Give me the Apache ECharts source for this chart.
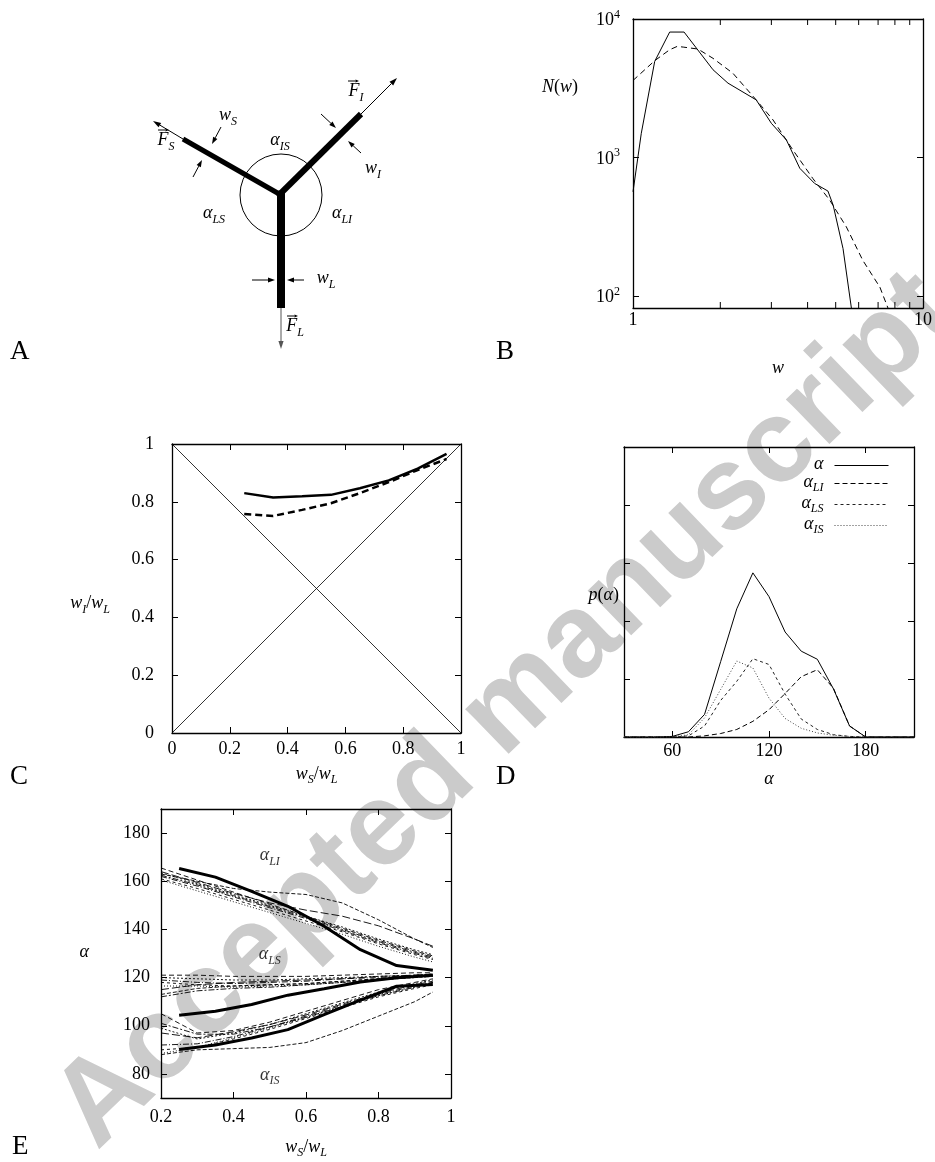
<!DOCTYPE html>
<html><head><meta charset="utf-8">
<script src="https://cdn.jsdelivr.net/npm/echarts@6/dist/echarts.min.js"></script>
<style>html,body{margin:0;padding:0;background:#fff}#c{width:935px;height:1162px}</style>
</head><body><div id="c"></div>
<script>
// ---------- Panel B : N(w) on log-log axes ----------
const bSolidW = [1.0, 1.068, 1.188, 1.338, 1.5, 1.888, 2.126, 2.66, 3.0, 3.38, 3.76, 4.23, 4.70, 4.9, 5.3, 5.74];
const bSolidN = [566, 1496, 4940, 8050, 8050, 4300, 3443, 2606, 1766, 1340, 836, 650, 573, 453, 220, 67];
const bDashW = [1.0, 1.188, 1.338, 1.42, 1.49, 1.675, 1.888, 2.21, 2.66, 3.04, 3.56, 4.17, 4.77, 5.44, 6.2, 7.1, 7.86];
const bDashN = [3600, 5000, 6000, 6340, 6270, 6070, 5200, 4060, 2606, 1868, 1133, 706, 492, 316, 181, 116, 67];
const bMinorTicks = [2, 3, 4, 5, 6, 7, 8, 9];

// ---------- Panel C : w_I/w_L vs w_S/w_L ----------
const cX = [0.25, 0.35, 0.45, 0.55, 0.65, 0.75, 0.85, 0.95];
const cSolid = [0.83, 0.815, 0.819, 0.824, 0.847, 0.874, 0.915, 0.966];
const cDashed = [0.758, 0.751, 0.772, 0.795, 0.83, 0.868, 0.91, 0.948];
const cDiagUp = [[0, 0], [1, 1]];
const cDiagDown = [[0, 1], [1, 0]];

// ---------- Panel D : p(alpha) ----------
const dAngle = [30, 40, 50, 60, 70, 80, 90, 100, 110, 120, 130, 140, 150, 160, 170, 180, 190, 200, 210];
const dAlpha = [0, 0, 0, 0.01, 0.09, 0.39, 1.30, 2.21, 2.83, 2.42, 1.81, 1.48, 1.34, 0.83, 0.19, 0, 0, 0, 0];
const dLI = [0, 0, 0, 0, 0, 0.02, 0.06, 0.13, 0.27, 0.47, 0.75, 1.04, 1.16, 0.84, 0.19, 0, 0, 0, 0];
const dLS = [0, 0, 0, 0, 0.02, 0.19, 0.63, 0.96, 1.35, 1.25, 0.74, 0.31, 0.13, 0.04, 0.01, 0, 0, 0, 0];
const dIS = [0, 0, 0, 0, 0.04, 0.33, 0.82, 1.31, 1.19, 0.67, 0.32, 0.15, 0.07, 0.03, 0.01, 0, 0, 0, 0];
const dTicks = [60, 120, 180];
const dLegendNames = ['α', 'αLI', 'αLS', 'αIS'];

// ---------- Panel E : alpha vs w_S/w_L ----------
const eXThin = [0.2, 0.3, 0.4, 0.5, 0.6, 0.7, 0.8, 0.9, 0.95];
const eXThick = [0.25, 0.35, 0.45, 0.55, 0.65, 0.75, 0.85, 0.95];
const eLIThick = [165.3, 161.7, 155.8, 149.6, 141.3, 131.6, 125.0, 123.0];
const eLSThick = [104.4, 106.0, 108.8, 112.7, 115.4, 118.2, 119.9, 121.0];
const eISThick = [90.1, 92.0, 94.9, 98.4, 104.6, 110.6, 116.4, 117.1];
const eLIThin = [
  [165.5, 160.5, 155.5, 150.5, 145.5, 140.5, 135.5, 131, 129],
  [163.5, 159, 154.5, 150, 145.5, 141, 136, 131.5, 129.5],
  [162, 158, 153.5, 149, 144.5, 139.5, 134.5, 130, 128],
  [161, 157, 152.5, 148, 143.5, 139, 134, 129.5, 127.5],
  [160.5, 156, 151.5, 147, 142.5, 138, 133, 128.5, 126.5],
  [163, 160, 157, 155.5, 154.5, 151, 144, 136, 132.5],
  [164, 159.5, 155, 151, 148, 145.5, 141.5, 136, 133],
  [162.5, 158.5, 154, 149.5, 145, 140, 135, 130.5, 128.5]
];
const eLSThin = [
  [121, 121, 120.5, 120.5, 120.5, 121, 121.5, 122, 122],
  [120, 119.5, 119, 119, 119.5, 120, 120.5, 121, 121.5],
  [119, 118, 117.5, 118, 118.5, 119.5, 120, 121, 121],
  [118, 117, 116.5, 117, 117.5, 118.5, 119.5, 120.5, 121],
  [116.5, 116.5, 116, 116.5, 117, 118, 119, 120, 120.5],
  [113, 115.5, 116.5, 117, 117.5, 118.5, 119.5, 120.5, 121],
  [115, 117, 118, 118.5, 119, 119.5, 120.5, 121, 121.5],
  [112, 114.5, 115.5, 116, 117, 118, 119, 120, 120.5]
];
const eISThin = [
  [105, 97, 98, 101.5, 106, 110.5, 115, 118, 119.5],
  [99, 94.5, 97, 100.5, 105, 109.5, 114, 117.5, 119],
  [92, 92.5, 95.5, 99.5, 104, 108.5, 113, 116.5, 118],
  [90, 91, 94.5, 98.5, 103, 107.5, 112, 115.5, 117],
  [88.5, 91, 95, 99, 103.5, 108, 112.5, 116, 117.5],
  [88, 90, 90.5, 91, 93, 98, 104, 110, 114],
  [97, 95, 97.5, 100.5, 104.5, 109, 113.5, 117, 118.5],
  [101, 96.5, 96.5, 99.5, 103.5, 108, 112.5, 116, 118]
];
const eTicks = [80, 100, 120, 140, 160, 180];
const eLabelSub = ['LI', 'LS', 'IS'];
const eLabelX = [0.5, 0.5, 0.5];
const eLabelY = [170, 129, 79];

// ---------- styles ----------
const FONT = 'Liberation Serif';
function mkRich(size, sub) {
  return {
    i: {fontFamily: FONT, fontStyle: 'italic', fontSize: size, verticalAlign: 'bottom', padding: [0, 0, 3, 0], color: '#000', fill: '#000'},
    n: {fontFamily: FONT, fontSize: size, verticalAlign: 'bottom', padding: [0, 0, 3, 0], color: '#000', fill: '#000'},
    s: {fontFamily: FONT, fontStyle: 'italic', fontSize: sub, verticalAlign: 'bottom', color: '#000', fill: '#000'},
    b: {fontFamily: FONT, fontSize: size, verticalAlign: 'bottom', color: '#000', fill: '#000'},
    p: {fontFamily: FONT, fontSize: sub, verticalAlign: 'bottom', padding: [0, 0, 9, 0], color: '#000', fill: '#000'}
  };
}
const RICH = mkRich(18, 12);
const zip = (xs, ys) => xs.map((x, i) => [x, ys[i]]);

function ax(o) {
  return {
    type: o.type || 'value', gridIndex: o.grid, position: o.pos,
    min: o.min, max: o.max, interval: o.interval, logBase: 10,
    name: o.name || '', nameLocation: 'middle', nameGap: o.nameGap || 0, nameRotate: 0,
    nameMoveOverlap: false,
    nameTextStyle: {rich: RICH, padding: o.namePad || 0, color: '#000'},
    axisLine: {show: true, onZero: false, lineStyle: {color: '#000', width: 1.3}},
    axisTick: {show: true, inside: true, length: 6, lineStyle: {color: '#000', width: 1}, customValues: o.ticks},
    minorTick: {show: false},
    splitLine: {show: false},
    axisLabel: {show: !!o.labels, margin: o.margin || 8, fontFamily: FONT, fontSize: 18, color: '#000',
      formatter: o.fmt, customValues: o.labelValues, rich: RICH, showMinLabel: true, showMaxLabel: true, hideOverlap: false}
  };
}
const powFmt = v => {
  const l = Math.log10(v), e = Math.round(l);
  if (Math.abs(l - e) > 1e-6) return '';
  return '{b|10}{p|' + e + '}';
};

// ---------- series ----------
const series = [];
series.push({type: 'line', xAxisIndex: 0, yAxisIndex: 0, data: zip(bSolidW, bSolidN), symbol: 'none', lineStyle: {color: '#000', width: 1}});
series.push({type: 'line', xAxisIndex: 0, yAxisIndex: 0, data: zip(bDashW, bDashN), symbol: 'none', lineStyle: {color: '#000', width: 1, type: [6, 4]}});
series.push({type: 'custom', xAxisIndex: 0, yAxisIndex: 0, data: bMinorTicks.map(v => [v, 1000]),
  renderItem: (params, api) => {
    const x = api.coord([api.value(0), api.value(1)])[0];
    const top = params.coordSys.y, bot = top + params.coordSys.height;
    return {type: 'group', children: [
      {type: 'line', shape: {x1: x, y1: bot, x2: x, y2: bot - 6}, style: {stroke: '#000', lineWidth: 1}},
      {type: 'line', shape: {x1: x, y1: top, x2: x, y2: top + 6}, style: {stroke: '#000', lineWidth: 1}}
    ]};
  }});

series.push({type: 'line', xAxisIndex: 1, yAxisIndex: 1, data: cDiagUp, symbol: 'none', lineStyle: {color: '#000', width: 0.8}});
series.push({type: 'line', xAxisIndex: 1, yAxisIndex: 1, data: cDiagDown, symbol: 'none', lineStyle: {color: '#000', width: 0.8}});
series.push({type: 'line', xAxisIndex: 1, yAxisIndex: 1, data: zip(cX, cSolid), symbol: 'none', lineStyle: {color: '#000', width: 2.5}});
series.push({type: 'line', xAxisIndex: 1, yAxisIndex: 1, data: zip(cX, cDashed), symbol: 'none', lineStyle: {color: '#000', width: 2.5, type: [7, 4]}});

const dStyles = {
  'α': {color: '#000', width: 1, type: 'solid'},
  'αLI': {color: '#000', width: 1, type: [5, 3]},
  'αLS': {color: '#222', width: 1, type: [3, 3]},
  'αIS': {color: '#444', width: 1, type: [1, 2]}
};
const dData = {'α': dAlpha, 'αLI': dLI, 'αLS': dLS, 'αIS': dIS};
dLegendNames.forEach(n => {
  series.push({type: 'line', name: n, xAxisIndex: 2, yAxisIndex: 2, data: zip(dAngle, dData[n]), symbol: 'none',
    lineStyle: dStyles[n], itemStyle: {color: dStyles[n].color}});
});

const eDashes = [[5, 3], [2, 2], [6, 2, 1, 2], [3, 3], [1, 2], [4, 2], [8, 3], [6, 2, 2, 2]];
[eLIThin, eLSThin, eISThin].forEach(group => group.forEach((ys, i) => {
  series.push({type: 'line', xAxisIndex: 3, yAxisIndex: 3, data: zip(eXThin, ys), symbol: 'none',
    lineStyle: {color: '#000', width: 0.9, type: eDashes[i % eDashes.length]}});
}));
[eLIThick, eLSThick, eISThick].forEach(ys => {
  series.push({type: 'line', xAxisIndex: 3, yAxisIndex: 3, data: zip(eXThick, ys), symbol: 'none',
    lineStyle: {color: '#000', width: 3}, z: 3});
});
series.push({type: 'scatter', xAxisIndex: 3, yAxisIndex: 3, symbolSize: 0,
  data: eLabelSub.map((s, i) => ({value: [eLabelX[i], eLabelY[i]], sub: s})),
  label: {show: true, position: 'inside', formatter: p => '{i|α}{s|' + p.data.sub + '}', rich: RICH}});

// ---------- diagram (panel A), letters, watermark ----------
function arrow(x1, y1, x2, y2, color, hl, hw) {
  const dx = x2 - x1, dy = y2 - y1, L = Math.hypot(dx, dy), ux = dx / L, uy = dy / L;
  const bx = x2 - ux * hl, by = y2 - uy * hl;
  return [
    {type: 'line', shape: {x1: x1, y1: y1, x2: bx, y2: by}, style: {stroke: color, lineWidth: 1}},
    {type: 'polygon', shape: {points: [[x2, y2], [bx - uy * hw, by + ux * hw], [bx + uy * hw, by - ux * hw]]}, style: {fill: color}}
  ];
}
function txt(x, y, text, extra) {
  return Object.assign({type: 'text', x: x, y: y, style: {text: text, rich: RICH, fill: '#000',
    align: 'center', verticalAlign: 'middle', textAlign: 'center', textVerticalAlign: 'middle'}}, extra || {});
}
function vecF(cx, cy, sub) {
  return [txt(cx, cy, '{i|F}{s|' + sub + '}')].concat(arrow(cx - 8, cy - 12, cx + 3, cy - 12, '#000', 3.5, 1.6));
}
const diagram = [].concat(
  [{type: 'circle', shape: {cx: 281, cy: 195, r: 41}, style: {stroke: '#000', lineWidth: 1, fill: null}}],
  [{type: 'line', shape: {x1: 281, y1: 192, x2: 281, y2: 308}, style: {stroke: '#000', lineWidth: 8}}],
  [{type: 'line', shape: {x1: 280, y1: 194, x2: 361, y2: 114}, style: {stroke: '#000', lineWidth: 6}}],
  [{type: 'line', shape: {x1: 281, y1: 195, x2: 183, y2: 139}, style: {stroke: '#000', lineWidth: 5}}],
  [{type: 'circle', shape: {cx: 280, cy: 194, r: 3.6}, style: {fill: '#000'}}],
  arrow(281, 308, 281, 349, '#555', 8, 2.6),
  arrow(361, 114, 397, 78, '#000', 8, 2.6),
  arrow(183, 139, 153, 121, '#000', 8, 2.6),
  arrow(252, 280, 275, 280, '#000', 7, 2.4),
  arrow(304, 280, 287, 280, '#000', 7, 2.4),
  arrow(321, 114, 336, 128, '#000', 7, 2.4),
  arrow(361, 153, 348, 141, '#000', 7, 2.4),
  arrow(221, 127, 212, 144, '#000', 7, 2.4),
  arrow(193, 177, 202, 160, '#000', 7, 2.4),
  [txt(280, 142, '{i|α}{s|IS}'), txt(214, 215, '{i|α}{s|LS}'), txt(342, 215, '{i|α}{s|LI}'),
   txt(228, 117, '{i|w}{s|S}'), txt(373, 170, '{i|w}{s|I}'), txt(326, 280, '{i|w}{s|L}')],
  vecF(356, 93, 'I'), vecF(295, 328, 'L'), vecF(166, 142, 'S')
);
const letterStyle = t => ({text: t, font: '27px "Liberation Serif"', fill: '#000', align: 'left', verticalAlign: 'middle', textAlign: 'left', textVerticalAlign: 'middle'});
const letters = [['A', 10, 352], ['B', 496, 352], ['C', 10, 777], ['D', 496, 777], ['E', 12, 1147]]
  .map(l => ({type: 'text', x: l[1], y: l[2], style: letterStyle(l[0])}));
const watermark = {type: 'text', x: 506, y: 711, rotation: 44 * Math.PI / 180, z: -10,
  style: {text: 'Accepted manuscript', font: 'bold 118px "Liberation Sans"', fill: '#cbcbcb',
    align: 'center', verticalAlign: 'middle', textAlign: 'center', textVerticalAlign: 'middle'}};

const option = {
  animation: false,
  backgroundColor: '#fff',
  grid: [
    {left: 633, top: 19, width: 290, height: 289, containLabel: false, outerBoundsMode: 'none'},
    {left: 172, top: 444, width: 289, height: 289, containLabel: false, outerBoundsMode: 'none'},
    {left: 624, top: 447, width: 290, height: 290, containLabel: false, outerBoundsMode: 'none'},
    {left: 161, top: 809, width: 290, height: 289, containLabel: false, outerBoundsMode: 'none'}
  ],
  xAxis: [
    ax({grid: 0, type: 'log', pos: 'bottom', min: 1, max: 10, labels: true, margin: 3, name: '{i|w}', nameGap: 51}),
    ax({grid: 1, pos: 'bottom', min: 0, max: 1, interval: 0.2, labels: true, margin: 7, name: '{i|w}{s|S}{n|/}{i|w}{s|L}', nameGap: 32}),
    ax({grid: 2, pos: 'bottom', min: 30, max: 210, ticks: dTicks, labelValues: dTicks, labels: true, margin: 5, name: '{i|α}', nameGap: 33}),
    ax({grid: 3, pos: 'bottom', min: 0.2, max: 1, interval: 0.2, labels: true, margin: 10, name: '{i|w}{s|S}{n|/}{i|w}{s|L}', nameGap: 40}),
    ax({grid: 0, type: 'log', pos: 'top', min: 1, max: 10}),
    ax({grid: 1, pos: 'top', min: 0, max: 1, interval: 0.2}),
    ax({grid: 2, pos: 'top', min: 30, max: 210, ticks: dTicks}),
    ax({grid: 3, pos: 'top', min: 0.2, max: 1, interval: 0.2})
  ],
  yAxis: [
    ax({grid: 0, type: 'log', pos: 'left', min: 82, max: 10000, labels: true, margin: 13, fmt: powFmt, name: '{i|N}{n|(}{i|w}{n|)}', nameGap: 55, namePad: [0, 0, 150, 0]}),
    ax({grid: 1, pos: 'left', min: 0, max: 1, interval: 0.2, labels: true, margin: 18, name: '{i|w}{s|I}{n|/}{i|w}{s|L}', nameGap: 62, namePad: [33, 0, 0, 0]}),
    ax({grid: 2, pos: 'left', min: 0, max: 5, interval: 1, name: '{i|p}{n|(}{i|α}{n|)}', nameGap: 5, namePad: [10, 0, 0, 0]}),
    ax({grid: 3, pos: 'left', min: 70, max: 190, ticks: eTicks, labelValues: eTicks, labels: true, margin: 11, name: '{i|α}', nameGap: 72}),
    ax({grid: 0, type: 'log', pos: 'right', min: 82, max: 10000}),
    ax({grid: 1, pos: 'right', min: 0, max: 1, interval: 0.2}),
    ax({grid: 2, pos: 'right', min: 0, max: 5, interval: 1}),
    ax({grid: 3, pos: 'right', min: 70, max: 190, ticks: eTicks})
  ],
  legend: {
    data: dLegendNames, orient: 'vertical', right: 46, top: 455, align: 'right', padding: 0,
    itemWidth: 54, itemHeight: 14, itemGap: 0, selectedMode: false,
    lineStyle: {width: 1},
    itemStyle: {color: 'rgba(0,0,0,0)', borderColor: 'rgba(0,0,0,0)', borderWidth: 0, opacity: 0},
    formatter: n => n === 'α' ? '{i|α}' : '{i|α}{s|' + n.slice(1) + '}',
    textStyle: {width: 40, align: 'right', padding: [0, 6, 0, 0], rich: RICH, color: '#000'}
  },
  graphic: {elements: [watermark].concat(diagram, letters)},
  series: series
};
const chart = echarts.init(document.getElementById('c'), null, {renderer: 'canvas'});
chart.setOption(option);
</script></body></html>
